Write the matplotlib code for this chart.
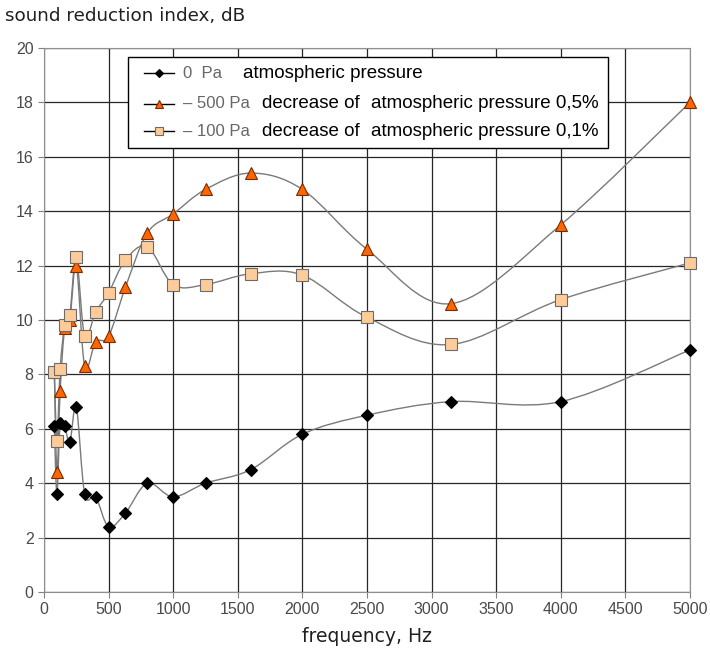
import numpy as np
import matplotlib
matplotlib.use("Agg")
import matplotlib.pyplot as plt
from matplotlib.path import Path
from matplotlib.patches import PathPatch, Rectangle
from matplotlib.lines import Line2D

# 1/3-octave band centre frequencies, Hz
freq = [80, 100, 125, 160, 200, 250, 315, 400, 500, 630, 800,
        1000, 1250, 1600, 2000, 2500, 3150, 4000, 5000]

# sound reduction index, dB
r_0pa = [6.1, 3.6, 6.2, 6.1, 5.5, 6.8, 3.6, 3.5, 2.4, 2.9, 4.0,
         3.5, 4.0, 4.5, 5.8, 6.5, 7.0, 7.0, 8.9]
r_500pa = [8.1, 4.4, 7.4, 9.7, 10.0, 12.0, 8.3, 9.2, 9.4, 11.2, 13.2,
           13.9, 14.8, 15.4, 14.8, 12.6, 10.6, 13.5, 18.0]
r_100pa = [8.1, 5.55, 8.2, 9.8, 10.2, 12.3, 9.4, 10.3, 11.0, 12.2, 12.7,
           11.3, 11.3, 11.7, 11.65, 10.1, 9.1, 10.75, 12.1]

xticks = list(range(0, 5001, 500))
yticks = list(range(0, 21, 2))

legend_pa = ["0  Pa", "\u2013 500 Pa", "\u2013 100 Pa"]
legend_desc = [("", "atmospheric pressure"),
               ("decrease of", "atmospheric pressure 0,5%"),
               ("decrease of", "atmospheric pressure 0,1%")]

LINE_COLOR = "#7a7a7a"
styles = [
    dict(marker="D", ms=6, mfc="black", mec="black"),
    dict(marker="^", ms=8, mfc="#ff6600", mec="#7a2a00"),
    dict(marker="s", ms=8, mfc="#ffcc99", mec="#6b6b6b"),
]


def smooth_path(x, y):
    # Excel style smoothed line: Catmull-Rom segments as cubic Beziers
    pts = np.column_stack([x, y]).astype(float)
    n = len(pts)
    verts = [pts[0]]
    codes = [Path.MOVETO]
    for i in range(n - 1):
        p0 = pts[i - 1] if i > 0 else pts[i]
        p1 = pts[i]
        p2 = pts[i + 1]
        p3 = pts[i + 2] if i + 2 < n else pts[i + 1]
        verts += [p1 + (p2 - p0) / 6, p2 - (p3 - p1) / 6, p2]
        codes += [Path.CURVE4] * 3
    return Path(verts, codes)


# axes box in figure pixels
AX_L, AX_R, AX_T, AX_B = 44, 690, 48, 592

fig = plt.figure(figsize=(7.1, 6.52), dpi=100)
ax = fig.add_axes([AX_L / 710, (652 - AX_B) / 652,
                   (AX_R - AX_L) / 710, (AX_B - AX_T) / 652])

series = [r_0pa, r_500pa, r_100pa]
for vals, st in zip(series, styles):
    ax.add_patch(PathPatch(smooth_path(freq, vals), fill=False,
                           edgecolor=LINE_COLOR, lw=1.0, zorder=3))
    ax.plot(freq, vals, ls="none", mew=0.8, zorder=4, clip_on=False, **st)

ax.set_xlim(0, 5000)
ax.set_ylim(0, 20)
ax.set_xticks(xticks)
ax.set_yticks(yticks)
ax.grid(True, color="#262626", lw=0.9)
ax.set_axisbelow(True)
for sp in ax.spines.values():
    sp.set_color("#909090")
ax.tick_params(direction="out", length=4, color="#808080",
               labelcolor="#4a4a4a", labelsize=11.5)
for lab in ax.get_xticklabels() + ax.get_yticklabels():
    lab.set_family("Liberation Sans")

ax.set_xlabel("frequency, Hz", fontsize=13.5, color="#202020",
              family="DejaVu Sans", labelpad=7)
fig.text(5 / 710, 1 - 16 / 652, "sound reduction index, dB", fontsize=13.2,
         color="#202020", family="DejaVu Sans", va="center", ha="left")

# legend, drawn by hand to keep the two-colour labels
def fx(px):
    return (px - AX_L) / (AX_R - AX_L)


def fy(py):
    return (AX_B - py) / (AX_B - AX_T)


ax.add_patch(Rectangle((fx(128), fy(148)), fx(608) - fx(128), fy(57) - fy(148),
                       transform=ax.transAxes, facecolor="white",
                       edgecolor="black", lw=1.0, zorder=6))
rows = [73, 104, 131]
for py, st, pa, (d1, d2) in zip(rows, styles, legend_pa, legend_desc):
    ax.add_line(Line2D([fx(144), fx(174)], [fy(py), fy(py)],
                       transform=ax.transAxes, color="black", lw=1.0,
                       zorder=7))
    ax.add_line(Line2D([fx(159)], [fy(py)], transform=ax.transAxes,
                       ls="none", zorder=8, mew=0.8,
                       **{**st, "ms": st["ms"] - 2}))
    ax.text(fx(183), fy(py), pa, transform=ax.transAxes, fontsize=12,
            color="#666666", family="Liberation Sans", va="center", zorder=8)
    if d1:
        ax.text(fx(262), fy(py), d1, transform=ax.transAxes, fontsize=13.5,
                color="black", family="Liberation Sans", va="center", zorder=8)
        ax.text(fx(371), fy(py), d2, transform=ax.transAxes, fontsize=13.5,
                color="black", family="Liberation Sans", va="center", zorder=8)
    else:
        ax.text(fx(243), fy(py), d2, transform=ax.transAxes, fontsize=13.5,
                color="black", family="Liberation Sans", va="center", zorder=8)

fig.savefig("out.png", dpi=100)
